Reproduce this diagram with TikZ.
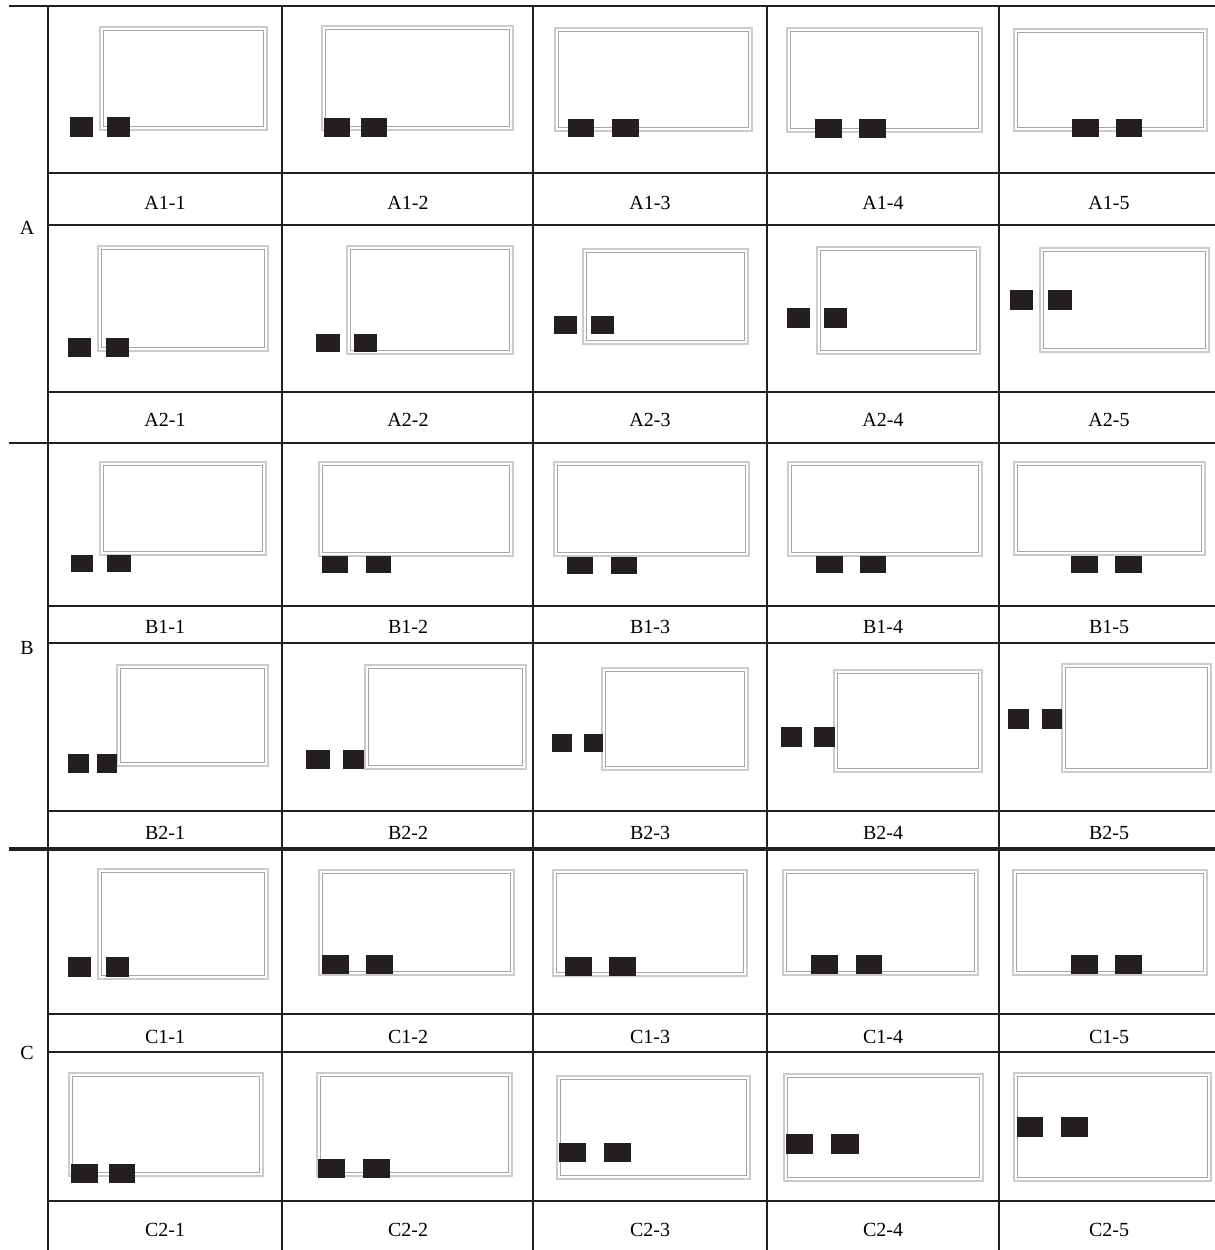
\documentclass[tikz,border=0pt]{standalone}
\usepackage{fontspec}
\setmainfont{Liberation Serif}
\definecolor{ink}{HTML}{231F20}
% double frame of one plate, outer corners given
\newcommand{\plate}[4]{%
  \draw[outerframe] (#1+1,#2+1) rectangle (#3-1,#4-1);
  \draw[innerframe] (#1+4.5,#2+4.5) rectangle (#3-4.5,#4-4.5);}
% two pads on one height: top, bottom, then x of both
\newcommand{\pads}[6]{%
  \fill[pad] (#3,#1) rectangle (#4,#2);
  \fill[pad] (#5,#1) rectangle (#6,#2);}

\begin{document}
\begin{tikzpicture}[
	x=1pt, y=-1pt,
	rule/.style={ ink, line width=2.2pt },
	bigrule/.style={ ink, line width=3.2pt },
	outerframe/.style={ gray!40, line width=2pt },
	innerframe/.style={ gray!70, line width=1.2pt },
	pad/.style={ ink },
	lab/.style={ font=\fontsize{20}{23}\selectfont, inner sep=0pt }
]
\useasboundingbox (0,0) rectangle (1215,1250);

% grid
\draw[rule] (9,6) -- (1215,6);
\draw[rule] (9,443) -- (1215,443);
\draw[bigrule] (9,849) -- (1215,849);
\foreach \y in {173,225,392,606,643,811,1014,1052,1201}
  \draw[rule] (48,\y) -- (1215,\y);
\foreach \x in {48,282,533,767,999}
  \draw[rule] (\x,6) -- (\x,1250);

% group names
\node[lab] at (27,228) (rowA) {A};
\node[lab] at (27,648) (rowB) {B};
\node[lab] at (27,1053) (rowC) {C};

% row A1
\plate{99}{26}{268}{131} \pads{117}{137}{70}{93}{107}{130}
\plate{321}{25}{514}{131} \pads{118}{137}{324}{350}{361}{387}
\plate{554}{27}{753}{132} \pads{119}{137}{568}{594}{612}{639}
\plate{786}{27}{983}{133} \pads{119}{138}{815}{842}{859}{886}
\plate{1013}{28}{1208}{132} \pads{119}{137}{1072}{1099}{1116}{1142}
\node[lab] at (165,203) (a11) {A1-1};
\node[lab] at (408,203) (a12) {A1-2};
\node[lab] at (650,203) (a13) {A1-3};
\node[lab] at (883,203) (a14) {A1-4};
\node[lab] at (1109,203) (a15) {A1-5};

% row A2
\plate{97}{245}{269}{352} \pads{338}{357}{68}{91}{106}{129}
\plate{346}{245}{514}{355} \pads{334}{352}{316}{340}{354}{377}
\plate{582}{248}{749}{345} \pads{316}{334}{554}{577}{591}{614}
\plate{816}{246}{981}{355} \pads{308}{328}{787}{810}{824}{847}
\plate{1039}{247}{1210}{353} \pads{290}{310}{1010}{1033}{1048}{1072}
\node[lab] at (165,420) (a21) {A2-1};
\node[lab] at (408,420) (a22) {A2-2};
\node[lab] at (650,420) (a23) {A2-3};
\node[lab] at (883,420) (a24) {A2-4};
\node[lab] at (1109,420) (a25) {A2-5};

% row B1
\plate{99}{461}{267}{556} \pads{555}{572}{71}{93}{107}{131}
\plate{318}{461}{514}{557} \pads{556}{573}{322}{348}{366}{391}
\plate{553}{461}{750}{557} \pads{557}{574}{567}{593}{611}{637}
\plate{787}{461}{983}{557} \pads{556}{573}{816}{843}{860}{886}
\plate{1013}{461}{1206}{556} \pads{556}{573}{1071}{1098}{1115}{1142}
\node[lab] at (165,627) (b11) {B1-1};
\node[lab] at (408,627) (b12) {B1-2};
\node[lab] at (650,627) (b13) {B1-3};
\node[lab] at (883,627) (b14) {B1-4};
\node[lab] at (1109,627) (b15) {B1-5};

% row B2
\plate{116}{664}{269}{767} \pads{754}{773}{68}{89}{97}{117}
\plate{364}{664}{527}{770} \pads{750}{769}{306}{330}{343}{364}
\plate{601}{667}{749}{771} \pads{734}{752}{552}{572}{584}{603}
\plate{833}{669}{983}{773} \pads{727}{747}{781}{802}{814}{835}
\plate{1061}{663}{1212}{773} \pads{709}{729}{1008}{1029}{1042}{1062}
\node[lab] at (165,833) (b21) {B2-1};
\node[lab] at (408,833) (b22) {B2-2};
\node[lab] at (650,833) (b23) {B2-3};
\node[lab] at (883,833) (b24) {B2-4};
\node[lab] at (1109,833) (b25) {B2-5};

% row C1
\plate{97}{868}{269}{980} \pads{957}{977}{68}{91}{106}{129}
\plate{318}{869}{515}{976} \pads{955}{974}{322}{349}{366}{393}
\plate{552}{869}{748}{977} \pads{957}{976}{565}{592}{609}{636}
\plate{782}{869}{979}{976} \pads{955}{974}{811}{838}{856}{882}
\plate{1012}{869}{1208}{976} \pads{955}{974}{1071}{1098}{1115}{1142}
\node[lab] at (165,1037) (c11) {C1-1};
\node[lab] at (408,1037) (c12) {C1-2};
\node[lab] at (650,1037) (c13) {C1-3};
\node[lab] at (883,1037) (c14) {C1-4};
\node[lab] at (1109,1037) (c15) {C1-5};

% row C2
\plate{68}{1072}{264}{1177} \pads{1164}{1183}{71}{98}{109}{135}
\plate{316}{1072}{513}{1177} \pads{1159}{1178}{318}{345}{363}{390}
\plate{556}{1075}{751}{1180} \pads{1143}{1162}{559}{586}{604}{631}
\plate{783}{1073}{984}{1182} \pads{1134}{1154}{786}{813}{831}{859}
\plate{1013}{1072}{1212}{1182} \pads{1117}{1137}{1017}{1043}{1061}{1088}
\node[lab] at (165,1230) (c21) {C2-1};
\node[lab] at (408,1230) (c22) {C2-2};
\node[lab] at (650,1230) (c23) {C2-3};
\node[lab] at (883,1230) (c24) {C2-4};
\node[lab] at (1109,1230) (c25) {C2-5};

\end{tikzpicture}
\end{document}
